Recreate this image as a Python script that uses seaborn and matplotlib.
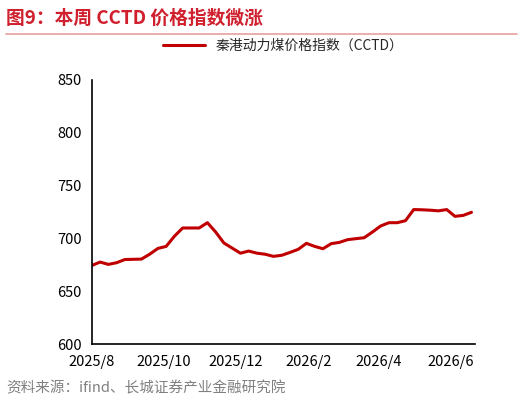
import matplotlib
matplotlib.use("Agg")
import matplotlib.pyplot as plt
import seaborn as sns
import pandas as pd

values = [674.4, 677.6, 675.4, 677.0, 680.0, 680.2, 680.4, 685.0, 690.5, 692.4, 702.0,
          709.8, 709.8, 709.8, 714.8, 706.0, 695.6, 690.8, 686.0, 688.0, 686.0, 685.0,
          683.0, 684.0, 686.7, 689.6, 695.3, 692.4, 690.2, 695.0, 696.2, 698.8, 699.7,
          700.6, 706.0, 711.7, 714.8, 714.8, 716.7, 727.2, 727.0, 726.6, 726.0, 727.2,
          720.8, 721.7, 724.6]
start_date = "2025-08-01"
series_name = "秦港动力煤价格指数（CCTD）"
tick_dates = ["2025-08-01", "2025-10-01", "2025-12-01", "2026-02-01", "2026-04-01", "2026-06-01"]
tick_labels = ["2025/8", "2025/10", "2025/12", "2026/2", "2026/4", "2026/6"]
yticks = [600, 650, 700, 750, 800, 850]

dates = pd.date_range(start_date, periods=len(values), freq="7D")
df = pd.DataFrame({"date": dates, "value": values})

sns.set_style("white")
plt.rcParams['font.family'] = ['Noto Sans CJK SC', 'DejaVu Sans']

fig = plt.figure(figsize=(5.22, 4.04), dpi=100)
ax = fig.add_axes([0.176, 0.148, 0.734, 0.655])
sns.lineplot(data=df, x="date", y="value", ax=ax, color="#C00000", linewidth=2.2, label=series_name)
ax.set_xlim(pd.Timestamp("2025-08-01"), pd.Timestamp("2026-06-22"))
ax.set_ylim(600, 850)
ax.set_yticks(yticks)
ax.set_xticks([pd.Timestamp(d) for d in tick_dates])
ax.set_xticklabels(tick_labels)
ax.set_xlabel("")
ax.set_ylabel("")
for s in ["top", "right"]:
    ax.spines[s].set_visible(False)
for s in ["left", "bottom"]:
    ax.spines[s].set_color("black")
    ax.spines[s].set_linewidth(1.2)
ax.tick_params(axis="both", direction="out", length=4, width=1, colors="black", labelsize=10.5)
ax.legend(loc="upper center", bbox_to_anchor=(0.5, 1.2), frameon=False, fontsize=10, handlelength=3)

fig.text(0.012, 0.955, "图9：本周 CCTD 价格指数微涨", color="#D0202E", fontsize=13.5,
         fontweight="bold", style="italic", va="center")
fig.add_artist(plt.Line2D([0.012, 0.99], [0.915, 0.915], color="#E8A0A0", linewidth=1.2))
fig.text(0.012, 0.04, "资料来源：ifind、长城证券产业金融研究院", color="#808080", fontsize=10.5,
         style="italic", va="center")
fig.savefig("out.png", dpi=100)
